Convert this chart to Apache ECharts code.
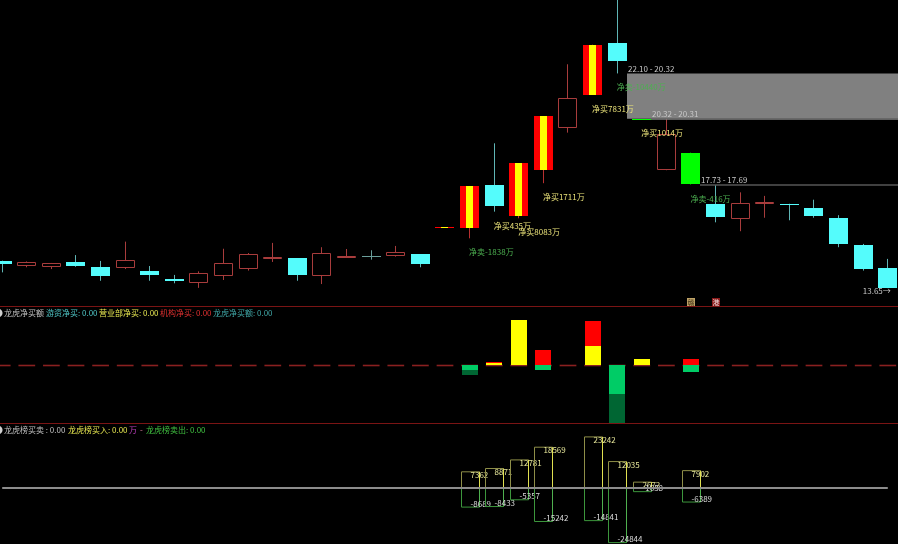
<!DOCTYPE html>
<html><head><meta charset="utf-8">
<script src="https://cdn.jsdelivr.net/npm/echarts@6/dist/echarts.min.js"></script>
<style>html,body{margin:0;padding:0;background:#000;}#c{width:898px;height:544px;}</style>
</head><body><div id="c"></div>
<script>
// ---------- data ----------
const categories = ['K01','K02','K03','K04','K05','K06','K07','K08','K09','K10','K11','K12','K13','K14','K15','K16','K17','K18','K19','K20','K21','K22','K23','K24','K25','K26','K27','K28','K29','K30','K31','K32','K33','K34','K35','K36','K37'];
const opens  = [14.73,14.53,14.49,14.68,14.48,14.44,14.32,14.01,13.86,14.14,14.42,14.88,14.82,14.12,14.91,14.93,14.93,14.99,16.06,16.01,17.71,16.49,18.31,19.95,21.27,23.30,20.32,18.29,18.98,16.95,16.36,16.96,16.97,16.82,16.41,15.34,14.43];
const closes = [14.59,14.67,14.64,14.53,14.12,14.76,14.18,13.92,14.25,14.63,14.99,14.89,14.17,15.03,14.92,14.93,15.06,14.60,16.06,17.67,16.87,18.56,20.42,21.12,23.23,22.58,20.32,19.70,17.73,16.45,16.99,17.04,16.95,16.49,15.38,14.42,13.65];
const lows   = [14.27,14.47,14.40,14.49,13.94,14.40,13.94,13.84,13.66,13.97,14.34,14.68,13.94,13.81,14.91,14.77,14.89,14.47,16.06,15.61,16.66,16.40,17.78,19.77,21.27,22.10,20.32,18.29,17.73,16.24,15.89,16.42,16.32,16.42,15.26,14.34,13.65];
const highs  = [14.73,14.70,14.64,14.95,14.72,15.48,14.52,14.17,14.31,15.20,15.03,15.43,14.82,15.26,15.19,15.14,15.31,14.99,16.06,17.67,19.35,18.56,20.42,22.46,23.23,25.55,20.32,20.31,18.98,17.69,17.42,17.28,16.97,17.13,16.52,15.39,14.80];

// 龙虎榜 data, for categories K20..K29 (index 19..28)
const lhbStart = 19;
const netLabel   = [-1838, 435, 8083, 1711, null, 7831, -10440, 1014, null, -416];
const yybNet     = [null, 300, 8083, null, null, 3300, null, 1014, null, null];   // 营业部 (yellow)
const jgNet      = [null, 135, null, 2650, null, 4531, null, null, null, 954];    // 机构 (red)
const sellLight  = [-950, null, null, -939, null, null, -5220, null, null, -1370];
const sellDark   = [-888, null, null, null, null, null, -5220, null, null, null];
const lhbBuy     = [7362, 8871, 12781, 18569, null, 23242, 12035, 2672, null, 7902];
const lhbSell    = [-8689, -8433, -5357, -15242, null, -14841, -24844, -1658, null, -6389];
const badgeIdx   = [28, 29];
const badgeText  = ['赣', '港'];

// ---------- helpers ----------
const N = categories.length;
const idx = categories.map((_, i) => i);
const FONT = '"Noto Sans CJK SC","Noto Sans",sans-serif';
const F8 = '8px ' + FONT;
const UP = '#a83c3c', DOWN = '#54fcfc', DOWN_WICK = '#5fb5b5', DOJI = '#6a9e9a';

function candleRender(params, api) {
  const i = api.value(0);
  const o = api.value(1), c = api.value(2), l = api.value(3), h = api.value(4);
  const band = api.size([1, 0])[0];
  const bw = Math.round(band * 0.77);
  const pO = api.coord([i, o]);
  const left = Math.round(pO[0] - bw / 2);
  const wx = left + Math.floor(bw / 2) + 0.5;
  const yO = pO[1], yC = api.coord([i, c])[1], yL = api.coord([i, l])[1], yH = api.coord([i, h])[1];
  const top = Math.round(Math.min(yO, yC)), bot = Math.round(Math.max(yO, yC));
  const hgt = Math.max(1, bot - top);
  const prev = i > 0 ? closes[i - 1] : o;
  const lu = i > 0 && c > prev && c >= Math.round(prev * 110) / 100 - 0.001;
  const ld = i > 0 && c < prev && c <= Math.round(prev * 90) / 100 + 0.001;
  let wick, body = [];
  if (lu) {
    wick = '#b83030';
    const s = Math.round(bw / 3);
    body.push({type:'rect', shape:{x:left, y:top, width:bw, height:hgt}, style:{fill:'#ff0000'}});
    body.push({type:'rect', shape:{x:left + s, y:top, width:bw - 2 * s, height:hgt}, style:{fill:'#ffff00'}});
  } else if (ld) {
    wick = '#00d000';
    body.push({type:'rect', shape:{x:left, y:top, width:bw, height:hgt}, style:{fill:'#00ff00'}});
  } else if (c > o) {
    wick = UP;
    body.push({type:'rect', shape:{x:left + 0.5, y:top + 0.5, width:bw - 1, height:Math.max(1, hgt - 1)}, style:{fill:'#000', stroke:UP, lineWidth:1}});
  } else if (c < o) {
    wick = DOWN_WICK;
    body.push({type:'rect', shape:{x:left, y:top, width:bw, height:hgt}, style:{fill:DOWN}});
  } else {
    wick = DOJI;
    body.push({type:'line', shape:{x1:left, y1:top + 0.5, x2:left + bw, y2:top + 0.5}, style:{stroke:DOJI, lineWidth:1}});
  }
  return {type:'group', children:[
    {type:'line', shape:{x1:wx, y1:yH, x2:wx, y2:yL}, style:{stroke:wick, lineWidth:1}},
    ...body
  ]};
}

// unfilled gaps (computed from the candles)
const gaps = [];
for (let i = 0; i < N - 1; i++) {
  if (lows[i] > highs[i + 1]) {
    const laterHigh = Math.max(...highs.slice(i + 2).concat([-Infinity]));
    if (laterHigh < lows[i]) gaps.push([i, lows[i], highs[i + 1]]);
  }
}
function gapRender(params, api) {
  const i = api.value(0), t = api.value(1), b = api.value(2);
  const band = api.size([1, 0])[0];
  const bw = Math.round(band * 0.77);
  const p = api.coord([i, t]);
  const x0 = Math.round(p[0] - bw / 2) + bw;
  const x1 = params.coordSys.x + params.coordSys.width;
  const y0 = p[1], y1 = api.coord([i, b])[1];
  const h = Math.max(1, y1 - y0);
  return {type:'group', children:[
    {type:'rect', shape:{x:x0, y:y0, width:x1 - x0, height:h}, style:{fill:'#808080'}},
    {type:'text', style:{text:t.toFixed(2) + ' - ' + b.toFixed(2), x:x0 + 1, y:y0 - 0.5, fill:'#c8c8c8', font:F8, textAlign:'left', textVerticalAlign:'bottom'}}
  ]};
}

const netData = [];
netLabel.forEach((v, k) => { if (v != null) netData.push([lhbStart + k, lows[lhbStart + k], v]); });
function netRender(params, api) {
  const i = api.value(0), l = api.value(1), v = api.value(2);
  const p = api.coord([i, l]);
  const txt = v >= 0 ? ('净买' + v + '万') : ('净卖' + v + '万');
  return {type:'text', style:{text:txt, x:p[0] - 0.5, y:p[1] + 14, fill: v >= 0 ? '#e8e078' : '#4caf50', font:F8, textAlign:'left', textVerticalAlign:'middle'}};
}

let iMin = 0;
lows.forEach((v, i) => { if (v < lows[iMin]) iMin = i; });
function minRender(params, api) {
  const i = api.value(0), l = api.value(1);
  const p = api.coord([i, l]);
  return {type:'text', style:{text:l.toFixed(2) + '→', x:p[0] + 3, y:p[1] + 3, fill:'#c8c8c8', font:F8, textAlign:'right', textVerticalAlign:'middle'}};
}

function badgeRender(params, api) {
  const i = api.value(0);
  const p = api.coord([i, 0]);
  const yb = params.coordSys.y + params.coordSys.height;
  const j = params.dataIndex;
  const bg = j === 0 ? '#c0a468' : '#8a1a1a';
  const fg = j === 0 ? '#3a2a10' : '#f0e0e0';
  const x = Math.round(p[0]) - 4;
  return {type:'group', children:[
    {type:'rect', shape:{x:x, y:yb - 9, width:8, height:9}, style:{fill:bg}},
    {type:'text', style:{text:badgeText[j], x:x + 4, y:yb - 4.5, fill:fg, font:'7px ' + FONT, textAlign:'center', textVerticalAlign:'middle'}}
  ]};
}

function dashRender(params, api) {
  const i = api.value(0);
  const p = api.coord([i, 0]);
  const band = api.size([1, 0])[0];
  const hw = band * 0.34;
  const y = Math.round(p[1]) + 0.5;
  return {type:'line', shape:{x1:p[0] - hw, y1:y, x2:p[0] + hw, y2:y}, style:{stroke:'#8a2020', lineWidth:1.6}};
}

// stacked 龙虎净买 bars: positive = 营业部 (yellow) then 机构 (red); negative = light then dark green
const netBarData = [];
yybNet.forEach((v, k) => netBarData.push([lhbStart + k, v || 0, jgNet[k] || 0, sellLight[k] || 0, sellDark[k] || 0]));
function netBarRender(params, api) {
  const i = api.value(0);
  const segs = [[0, api.value(1), '#ffff00'], [api.value(1), api.value(1) + api.value(2), '#ff0000'],
                [0, api.value(3), '#00cc66'], [api.value(3), api.value(3) + api.value(4), '#006633']];
  const cx = api.coord([i, 0])[0];
  const left = Math.round(cx - 8);
  const children = [];
  segs.forEach(s => {
    if (s[0] === s[1]) return;
    const ya = Math.round(api.coord([i, s[0]])[1]), yb = Math.round(api.coord([i, s[1]])[1]);
    const y = Math.min(ya, yb), h = Math.max(1, Math.abs(yb - ya));
    children.push({type:'rect', shape:{x:left, y:y, width:16, height:h}, style:{fill:s[2]}});
  });
  return {type:'group', children:children};
}

const lhbData = [];
lhbBuy.forEach((v, k) => { if (v != null || lhbSell[k] != null) lhbData.push([lhbStart + k, v, lhbSell[k]]); });
function lhbRender(params, api) {
  const i = api.value(0), b = api.value(1), s = api.value(2);
  const p0 = api.coord([i, 0]);
  const left = Math.round(p0[0] - 9) + 0.5;
  const right = left + 18;
  const y0 = p0[1];
  const yb = api.coord([i, b])[1], ys = api.coord([i, s])[1];
  const tx = Math.round(p0[0]) + 0.5;
  return {type:'group', children:[
    {type:'polyline', shape:{points:[[left, y0], [left, yb], [right, yb]]}, style:{stroke:'#8e8e48', lineWidth:1, fill:null}},
    {type:'line', shape:{x1:right, y1:yb, x2:right, y2:y0}, style:{stroke:'#e0e050', lineWidth:1}},
    {type:'polyline', shape:{points:[[left, y0], [left, ys], [right, ys]]}, style:{stroke:'#3c963c', lineWidth:1, fill:null}},
    {type:'line', shape:{x1:right, y1:y0, x2:right, y2:ys}, style:{stroke:'#4fb04f', lineWidth:1}},
    {type:'text', style:{text:String(b), x:tx, y:yb + 3, fill:'#e6e69a', font:F8, textAlign:'left', textVerticalAlign:'middle'}},
    {type:'text', style:{text:String(s), x:tx, y:ys - 3.5, fill:'#dcdcdc', font:F8, textAlign:'left', textVerticalAlign:'middle'}}
  ]};
}

// ---------- chart ----------
// x axis: bar index as a value; first bar partly cut off at the left edge
const X_MIN = -0.0894, X_MAX = 36.415;
const chart = echarts.init(document.getElementById('c'));
const hdr = (x, y, text, fill) => ({type:'text', x:x, y:y, z:100, style:{text:text, fill:fill, font:F8, textAlign:'left', textVerticalAlign:'middle'}});
chart.setOption({
  backgroundColor:'#000',
  animation:false,
  grid:[
    {left:0, right:0, top:0, height:307},
    {left:0, right:0, top:307, height:117},
    {left:0, right:0, top:424, height:120}
  ],
  xAxis:[0,1,2].map(g => ({type:'value', gridIndex:g, min:X_MIN, max:X_MAX, show:false, splitLine:{show:false}})),
  yAxis:[
    {gridIndex:0, min:12.907, max:24.99, show:false, splitLine:{show:false}},
    {gridIndex:1, min:-10674, max:10386, show:false, splitLine:{show:false}},
    {gridIndex:2, min:-25480, max:29120, show:false, splitLine:{show:false}}
  ],
  series:[
    {type:'custom', name:'K', xAxisIndex:0, yAxisIndex:0, z:2, clip:true, silent:true,
     renderItem:candleRender, encode:{x:0, y:[1,2,3,4]},
     data: idx.map(i => [i, opens[i], closes[i], lows[i], highs[i]])},
    {type:'custom', name:'gap', xAxisIndex:0, yAxisIndex:0, z:3, clip:true, silent:true,
     renderItem:gapRender, encode:{x:0, y:[1,2]}, data:gaps},
    {type:'custom', name:'net', xAxisIndex:0, yAxisIndex:0, z:4, silent:true,
     renderItem:netRender, encode:{x:0, y:1}, data:netData},
    {type:'custom', name:'min', xAxisIndex:0, yAxisIndex:0, z:4, silent:true,
     renderItem:minRender, encode:{x:0, y:1}, data:[[iMin, lows[iMin]]]},
    {type:'custom', name:'badge', xAxisIndex:0, yAxisIndex:0, z:4, silent:true,
     renderItem:badgeRender, encode:{x:0}, data:badgeIdx.map(k => [k, 0])},
    {type:'custom', name:'zero2', xAxisIndex:1, yAxisIndex:1, z:1, silent:true,
     renderItem:dashRender, encode:{x:0, y:1}, data: idx.map(i => [i, 0])},
    {type:'custom', name:'龙虎净买额', xAxisIndex:1, yAxisIndex:1, z:2, silent:true,
     renderItem:netBarRender, encode:{x:0, y:[1,2,3,4]}, data:netBarData},
    {type:'custom', name:'lhb', xAxisIndex:2, yAxisIndex:2, z:2, silent:true,
     renderItem:lhbRender, encode:{x:0, y:[1,2]}, data:lhbData},
    {type:'line', name:'zero3', xAxisIndex:2, yAxisIndex:2, z:5, silent:true, symbol:'none',
     data: idx.map(i => [i, 0]), lineStyle:{color:'#8c8c8c', width:2}}
  ],
  graphic:[
    {type:'line', z:50, shape:{x1:0, y1:306.5, x2:898, y2:306.5}, style:{stroke:'#7a1414', lineWidth:1}},
    {type:'line', z:50, shape:{x1:0, y1:423.5, x2:898, y2:423.5}, style:{stroke:'#7a1414', lineWidth:1}},
    hdr(-5, 313, '◑', '#d0d0d0'),
    hdr(4, 313, '龙虎净买额', '#c0c0c0'),
    hdr(46, 313, '游资净买: 0.00', '#50c8c8'),
    hdr(99, 313, '营业部净买: 0.00', '#e6e650'),
    hdr(160, 313, '机构净买: 0.00', '#e03030'),
    hdr(213, 313, '龙虎净买额: 0.00', '#40a8a8'),
    hdr(-5, 430, '◑', '#d0d0d0'),
    hdr(4, 430, '龙虎榜买卖 : 0.00', '#c0c0c0'),
    hdr(68, 430, '龙虎榜买入: 0.00', '#e6e650'),
    hdr(129, 430, '万', '#c040c0'),
    hdr(140, 430, '-', '#e080a0'),
    hdr(146, 430, '龙虎榜卖出: 0.00', '#40c040')
  ]
});
</script></body></html>
